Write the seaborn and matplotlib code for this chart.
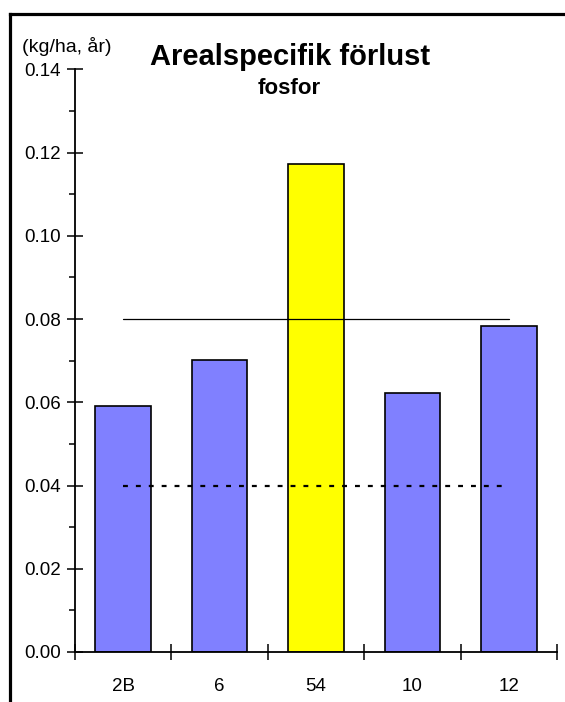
import matplotlib
matplotlib.use("Agg")
import matplotlib.pyplot as plt
import seaborn as sns
import pandas as pd
from matplotlib.lines import Line2D
from matplotlib.ticker import MultipleLocator

categories = ["2B", "6", "54", "10", "12"]
values = [0.0591, 0.0702, 0.1173, 0.0622, 0.0784]
bar_colors = ["#8080FF", "#8080FF", "#FFFF00", "#8080FF", "#8080FF"]
solid_ref = 0.08
dotted_ref = 0.04
yticks = [0.00, 0.02, 0.04, 0.06, 0.08, 0.10, 0.12, 0.14]

sns.set_theme(style="white")
plt.rcParams['font.family'] = ['Liberation Sans', 'DejaVu Sans']
plt.rcParams['text.color'] = 'black'
plt.rcParams['xtick.color'] = 'black'
plt.rcParams['ytick.color'] = 'black'

df = pd.DataFrame({"cat": categories, "val": values})

fig = plt.figure(figsize=(5.65, 7.02), dpi=100)
ax = fig.add_axes([75/565, 1-652/702, (557-75)/565, (652-69.3)/702])

sns.barplot(data=df, x="cat", y="val", hue="cat", palette=bar_colors,
            legend=False, width=0.575, edgecolor="black", linewidth=1.2,
            saturation=1, ax=ax)

ax.plot([0, len(categories)-1], [solid_ref, solid_ref], color="black", lw=0.9, zorder=5)
ax.plot([0, len(categories)-1], [dotted_ref, dotted_ref], color="black", lw=1.6,
        linestyle=(0, (2.2, 3.6)), dash_capstyle="butt", zorder=5)

ax.set_xlim(-0.5, len(categories)-0.5)
ax.set_ylim(0, 0.14)
ax.set_xlabel("")
ax.set_ylabel("")

ax.set_yticks(yticks)
ax.set_yticklabels([f"{v:.2f}" for v in yticks], fontsize=13.5)
ax.yaxis.set_minor_locator(MultipleLocator(0.01))
ax.tick_params(axis="y", which="major", direction="inout", length=12, width=1.1,
               left=True, pad=4, labelcolor="black")
ax.tick_params(axis="y", which="minor", direction="out", length=4, width=1.1, left=True)

ax.set_xticks([i - 0.5 for i in range(len(categories)+1)], minor=False)
ax.set_xticklabels([""] * (len(categories)+1))
ax.set_xticks(range(len(categories)), minor=True)
ax.set_xticklabels(categories, minor=True, fontsize=13.5)
ax.tick_params(axis="x", which="major", direction="inout", length=12, width=1.1, bottom=True)
ax.tick_params(axis="x", which="minor", length=0, pad=19, labelcolor="black")

for s in ["top", "right"]:
    ax.spines[s].set_visible(False)
for s in ["left", "bottom"]:
    ax.spines[s].set_color("black")
    ax.spines[s].set_linewidth(1.3)

fig.text(67/565, 1-47/702, "(kg/ha, år)", ha="center", va="center", fontsize=14, color="black")
fig.text(290/565, 1-57/702, "Arealspecifik förlust", ha="center", va="center",
         fontsize=21, fontweight="bold", color="black")
fig.text(289/565, 1-88/702, "fosfor", ha="center", va="center",
         fontsize=16, fontweight="bold", color="black")

fig.add_artist(Line2D([10/565, 1], [1-14/702, 1-14/702], color="black", lw=2.3,
                      transform=fig.transFigure, solid_capstyle="projecting"))
fig.add_artist(Line2D([10/565, 10/565], [0, 1-14/702], color="black", lw=2.3,
                      transform=fig.transFigure, solid_capstyle="projecting"))

fig.savefig("out.png", dpi=100, facecolor="white")
